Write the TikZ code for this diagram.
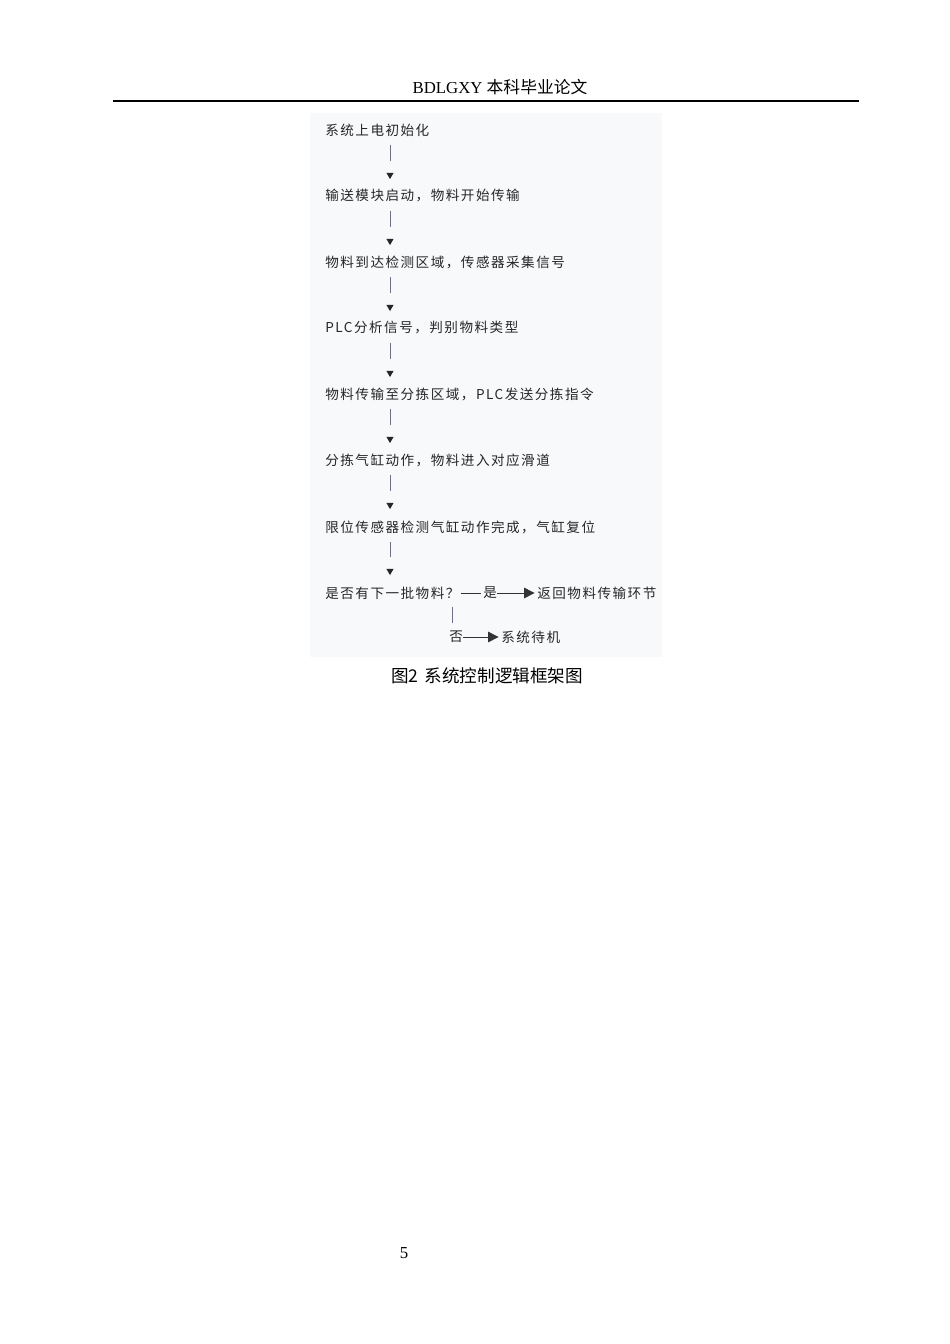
\documentclass[tikz,border=0pt]{standalone}
\usepackage{fontspec}
\setmainfont{Liberation Serif}
\newfontfamily\cjk{Noto Sans CJK SC}
\newfontfamily\cjkstep[LetterSpace=11]{Noto Sans CJK SC}
\usetikzlibrary{arrows.meta,shapes.geometric}
\definecolor{boxgray}{HTML}{F7F9FB}
\definecolor{txtgray}{HTML}{262626}
\definecolor{bargray}{HTML}{6F6D88}
\begin{document}
\begin{tikzpicture}[x=0.626pt, y=-0.626pt,
  stepnode/.style={anchor=west, inner sep=0pt, text=txtgray, font=\cjkstep\fontsize{8.5}{8.5}\selectfont},
  tipnode/.style={regular polygon, regular polygon sides=3, shape border rotate=180,
    minimum size=5.1pt, inner sep=0pt, fill=black!85},
  bar/.style={bargray, line width=0.6pt, shorten <=5pt, shorten >=7.4pt},
  hline/.style={black!80, line width=0.6pt}]
\useasboundingbox (0,0) rectangle (950,1344);
% page header
\node[font=\fontsize{10.5}{10.5}\selectfont] (head) at (500,87) {BDLGXY {\cjk 本科毕业论文}};
\draw[line width=1.5pt] (113,101) -- (859,101);
% figure background
\fill[boxgray] (310,113) rectangle (662,657);

% steps
\node[stepnode] (s1) at (325,130) {系统上电初始化};
\node[stepnode] (s2) at (325,196) {输送模块启动，物料开始传输};
\node[stepnode] (s3) at (325,262) {物料到达检测区域，传感器采集信号};
\node[stepnode] (s4) at (325,328) {PLC分析信号，判别物料类型};
\node[stepnode] (s5) at (325,394) {物料传输至分拣区域，PLC发送分拣指令};
\node[stepnode] (s6) at (325,460) {分拣气缸动作，物料进入对应滑道};
\node[stepnode] (s7) at (325,527) {限位传感器检测气缸动作完成，气缸复位};
\node[stepnode] (s8) at (325,593) {是否有下一批物料？};

% arrows between steps
\foreach \i/\j/\y in {1/2/175,2/3/241,3/4/307,4/5/373,5/6/439,6/7/505,7/8/571}{
  \node[tipnode] (t\i) at (390,\y) {};
  \draw[bar] (s\i.south -| t\i) -- (t\i.north);
}

% decision
\node[stepnode] (yes) at (483,593) {是};
\node[stepnode] (back) at (537,593) {返回物料传输环节};
\draw[hline, shorten <=0.5pt, shorten >=1pt] (s8.east) -- (yes.west);
\draw[hline, -{Triangle[length=6.5pt,width=6.5pt]}, shorten >=1.5pt] (yes.east) -- (back.west);
\node[stepnode] (no) at (449,637) {否};
\node[stepnode] (wait) at (501,637) {系统待机};
\draw[bargray, line width=0.6pt, shorten <=4.6pt, shorten >=5.2pt]
  ([xshift=2pt]no.north west |- s8.south) -- ([xshift=2pt]no.north west);
\draw[hline, -{Triangle[length=6.5pt,width=6.5pt]}, shorten >=1.5pt] (no.east) -- (wait.west);

% caption and page number
\node[font=\cjk\fontsize{11}{11}\selectfont] (cap) at (487,676) {图2\hspace{4pt}系统控制逻辑框架图};
\node[font=\fontsize{10.5}{10.5}\selectfont] (page) at (404,1253) {5};
\end{tikzpicture}
\end{document}
